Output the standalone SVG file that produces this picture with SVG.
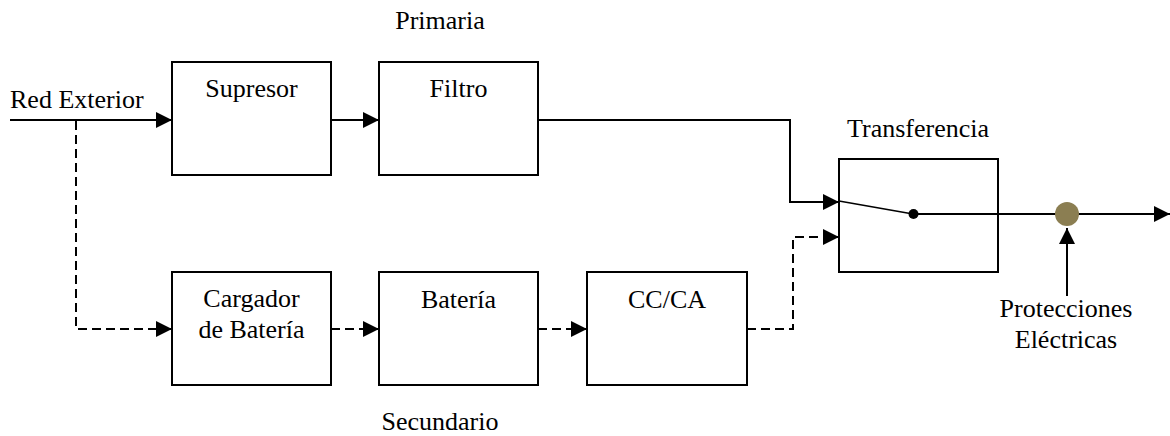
<svg xmlns="http://www.w3.org/2000/svg" width="1170" height="436" viewBox="0 0 1170 436">
  <style>
    .box { fill: none; stroke: #000; stroke-width: 2; }
    .lbl { font-family: "Liberation Serif", "Times New Roman", serif; font-size: 26px; fill: #000; text-anchor: middle; }
    .start { text-anchor: start; }
    .wire { fill: none; stroke: #000; stroke-width: 2; }
    .dash { stroke-dasharray: 9 5; }
  </style>
  <defs>
    <marker id="arrow" viewBox="0 0 16 16" refX="16" refY="8" markerWidth="16" markerHeight="16" markerUnits="userSpaceOnUse" orient="auto">
      <path d="M0,0 L16,8 L0,16 Z" fill="#000"/>
    </marker>
  </defs>

  <rect width="1170" height="436" fill="#fff"/>

  <!-- branch titles and input label -->
  <text class="lbl" x="440" y="29">Primaria</text>
  <text class="lbl" x="440" y="430">Secundario</text>
  <text class="lbl start" x="10" y="108">Red Exterior</text>

  <!-- connectors: solid = primary path, dashed = backup path -->
  <g id="connectors">
    <line class="wire" x1="10" y1="120" x2="172" y2="120" marker-end="url(#arrow)"/>
    <line class="wire" x1="331" y1="120" x2="379" y2="120" marker-end="url(#arrow)"/>
    <polyline class="wire" points="538,120 790,120 790,202 839,202" marker-end="url(#arrow)"/>
    <polyline class="wire dash" points="76,121 76,329 172,329" marker-end="url(#arrow)"/>
    <line class="wire dash" x1="331" y1="329" x2="379" y2="329" marker-end="url(#arrow)"/>
    <line class="wire dash" x1="538" y1="329" x2="587" y2="329" marker-end="url(#arrow)"/>
    <polyline class="wire dash" points="747,329 793,329 793,237 839,237" marker-end="url(#arrow)"/>
    <line class="wire" x1="913" y1="214" x2="1170" y2="214" marker-end="url(#arrow)"/>
    <line class="wire" x1="1067" y1="296" x2="1067" y2="228" marker-end="url(#arrow)"/>
  </g>

  <g id="supresor">
    <rect class="box" x="172" y="62" width="159" height="113"/>
    <text class="lbl" x="251.5" y="97">Supresor</text>
  </g>
  <g id="filtro">
    <rect class="box" x="379" y="62" width="159" height="113"/>
    <text class="lbl" x="458.5" y="97">Filtro</text>
  </g>
  <g id="cargador">
    <rect class="box" x="172" y="272" width="159" height="113"/>
    <text class="lbl" x="251.5" y="307">Cargador</text>
    <text class="lbl" x="251.5" y="338">de Batería</text>
  </g>
  <g id="bateria">
    <rect class="box" x="379" y="272" width="159" height="113"/>
    <text class="lbl" x="458.5" y="308">Batería</text>
  </g>
  <g id="cc-ca">
    <rect class="box" x="587" y="272" width="160" height="113"/>
    <text class="lbl" x="667" y="308">CC/CA</text>
  </g>
  <g id="transferencia">
    <rect class="box" x="839" y="159" width="159" height="113"/>
    <text class="lbl" x="918" y="137">Transferencia</text>
    <!-- switch blade -->
    <line x1="839" y1="201" x2="913" y2="214" stroke="#000" stroke-width="1.6"/>
    <circle cx="913.5" cy="214" r="5" fill="#000"/>
  </g>
  <g id="protecciones">
    <circle cx="1067" cy="214" r="12" fill="#8b7e52"/>
    <text class="lbl" x="1066" y="317">Protecciones</text>
    <text class="lbl" x="1066" y="348">Eléctricas</text>
  </g>
</svg>
